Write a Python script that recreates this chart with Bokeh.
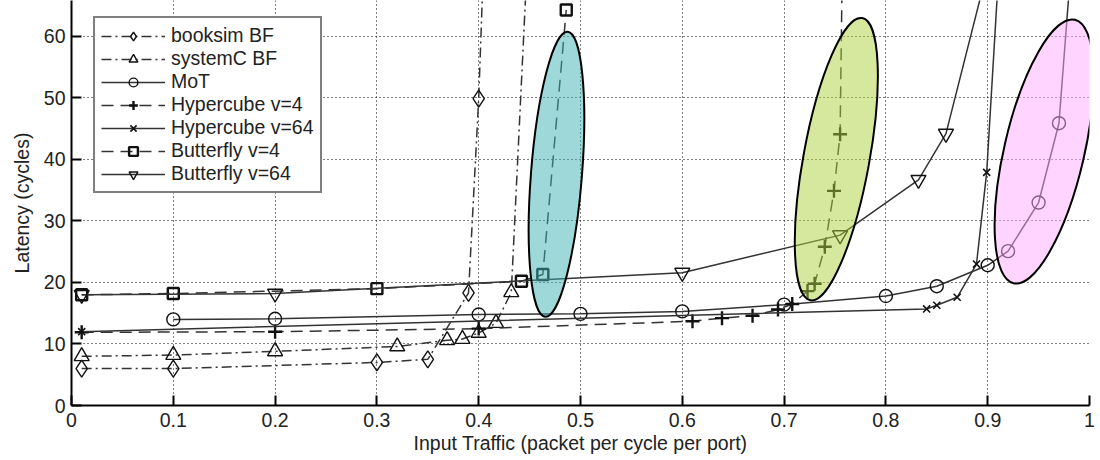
import math
from bokeh.plotting import figure
from bokeh.models import Range1d, FixedTicker, Legend, LegendItem, ColumnDataSource
from bokeh.embed import file_html
from bokeh.resources import INLINE

# ---------------- data ----------------
booksim_x = [0.01, 0.1, 0.3, 0.35, 0.39, 0.4, 0.41]
booksim_y = [6.0, 6.0, 7.0, 7.5, 18.3, 49.9, 96]

systemc_x = [0.01, 0.1, 0.2, 0.32, 0.369, 0.384, 0.4, 0.417, 0.432, 0.45]
systemc_y = [8.0, 8.2, 8.8, 9.6, 10.6, 10.8, 11.8, 13.4, 18.4, 80]

mot_x = [0.1, 0.2, 0.4, 0.5, 0.6, 0.7, 0.8, 0.85, 0.9, 0.92, 0.95, 0.97, 0.99]
mot_y = [14.0, 14.1, 14.8, 14.9, 15.3, 16.4, 17.8, 19.4, 22.8, 25.1, 33.0, 45.9, 89]

hc4_x = [0.01, 0.2, 0.4, 0.61, 0.639, 0.669, 0.694, 0.708, 0.723, 0.73, 0.74, 0.749, 0.755, 0.76]
hc4_y = [11.9, 12.0, 12.5, 13.7, 14.2, 14.6, 15.6, 16.5, 18.6, 19.8, 25.8, 34.9, 44.1, 107]

hc64_x = [0.01, 0.84, 0.85, 0.87, 0.889, 0.899, 0.92]
hc64_y = [12.0, 15.7, 16.3, 17.6, 23.0, 37.9, 96]

bf4_x = [0.01, 0.1, 0.3, 0.442, 0.463, 0.486]
bf4_y = [18.0, 18.2, 19.0, 20.2, 21.3, 64.3]

bf64_x = [0.01, 0.2, 0.6, 0.755, 0.832, 0.859, 0.9]
bf64_y = [18.0, 18.2, 21.6, 27.7, 36.7, 44.2, 71]

series_names = ["booksim BF", "systemC BF", "MoT", "Hypercube v=4",
                "Hypercube v=64", "Butterfly v=4", "Butterfly v=64"]

x_ticks = [0, 0.1, 0.2, 0.3, 0.4, 0.5, 0.6, 0.7, 0.8, 0.9, 1]
x_tick_labels = ["0", "0.1", "0.2", "0.3", "0.4", "0.5", "0.6", "0.7", "0.8", "0.9", "1"]
y_ticks = [0, 10, 20, 30, 40, 50, 60]

# highlight ellipses (centre in data units, size in screen px, tilt in degrees)
ell_x = [0.4764, 0.7513, 0.9555]
ell_y = [37.6, 40.05, 41.3]
ell_w = [51, 66, 80]
ell_h = [286, 287, 271]
ell_tilt = [-4.5, -10.4, -13.1]
ell_color = ["#40B2B2", "#ABD13B", "#FFAAFF"]

# ---------------- figure ----------------
FONT = "Liberation Sans"
TXT = "#222222"
p = figure(width=1100, height=460, output_backend="svg", toolbar_location=None,
           x_range=Range1d(0, 1), y_range=Range1d(0, 65.85),
           min_border_left=71, min_border_right=11, min_border_top=0, min_border_bottom=55)
p.outline_line_color = None
p.background_fill_color = "white"

for ax in (p.xaxis[0], p.yaxis[0]):
    ax.axis_line_width = 2
    ax.axis_line_color = "black"
    ax.major_tick_in = 10
    ax.major_tick_out = 0
    ax.major_tick_line_width = 2
    ax.minor_tick_line_color = None
    ax.major_label_text_font = FONT
    ax.major_label_text_font_size = "19.5px"
    ax.major_label_text_color = TXT
    ax.axis_label_text_font = FONT
    ax.axis_label_text_font_size = "19.5px"
    ax.axis_label_text_font_style = "normal"
    ax.axis_label_text_color = TXT

p.xaxis.ticker = FixedTicker(ticks=x_ticks)
p.xaxis.major_label_overrides = {t: l for t, l in zip(x_ticks, x_tick_labels)}
p.yaxis.ticker = FixedTicker(ticks=y_ticks)
p.xaxis.axis_label = "Input Traffic (packet per cycle per port)"
p.yaxis.axis_label = "Latency (cycles)"
p.xaxis.major_label_standoff = 7
p.xaxis.axis_label_standoff = 2
p.yaxis.major_label_standoff = 6
p.yaxis.axis_label_standoff = 8

for g in (p.xgrid[0], p.ygrid[0]):
    g.grid_line_color = "black"
    g.grid_line_dash = "1 3"
    g.grid_line_width = 1.1
    g.grid_line_alpha = 1.0

LINE_C = "#333333"
MARK_C = "#111111"
specs = [
    (booksim_x, booksim_y, "10 4 2 4", "diamond", 17, 1.4),
    (systemc_x, systemc_y, "10 4 2 4", "triangle", 15, 1.4),
    (mot_x, mot_y, "solid", "circle", 13, 1.4),
    (hc4_x, hc4_y, "12 7", "cross", 14, 2.4),
    (hc64_x, hc64_y, "solid", "x", 10, 1.6),
    (bf4_x, bf4_y, "12 7", "square", 11, 2.4),
    (bf64_x, bf64_y, "solid", "inverted_triangle", 15, 1.4),
]

items = []
for name, (xs, ys, dash, marker, size, mlw) in zip(series_names, specs):
    src = ColumnDataSource(dict(x=xs, y=ys))
    lr = p.line("x", "y", source=src, line_color=LINE_C, line_width=1.5, line_dash=dash)
    sr = p.scatter("x", "y", source=src, marker=marker, size=size, line_color=MARK_C,
                   line_width=mlw, fill_color=None)
    items.append(LegendItem(label=name, renderers=[lr, sr]))

esrc = ColumnDataSource(dict(x=ell_x, y=ell_y, w=ell_w, h=ell_h,
                             a=[math.radians(t) for t in ell_tilt], c=ell_color))
p.ellipse(x="x", y="y", width="w", height="h", angle="a", source=esrc,
          width_units="screen", height_units="screen",
          fill_color="c", fill_alpha=0.5, line_color="black", line_width=2)

legend = Legend(items=items, location=(22, 212))
legend.label_text_font = FONT
legend.label_text_font_size = "19.5px"
legend.label_text_color = TXT
legend.glyph_width = 64
legend.glyph_height = 22
legend.label_height = 20
legend.spacing = 0
legend.padding = 6
legend.margin = 0
legend.label_standoff = 6
legend.border_line_color = "black"
legend.border_line_width = 2
legend.background_fill_color = "white"
legend.background_fill_alpha = 1
p.add_layout(legend)

open("out.html", "w").write(file_html(p, INLINE))
